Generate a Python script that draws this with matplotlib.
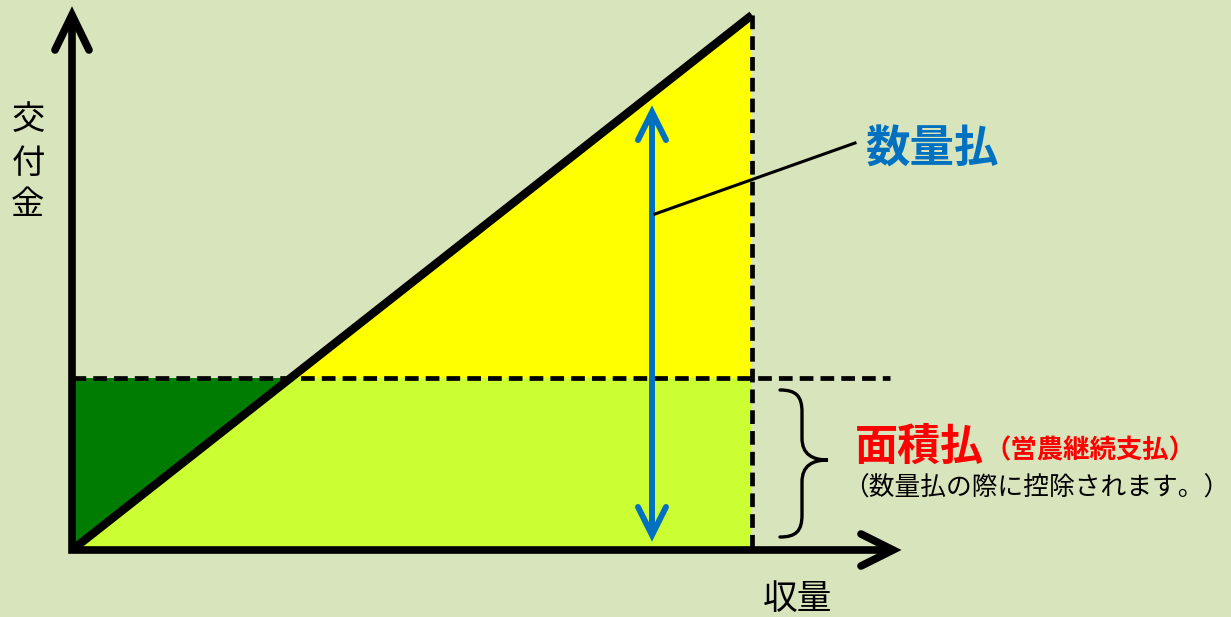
import matplotlib
matplotlib.use("Agg")
import matplotlib.pyplot as plt
from matplotlib.path import Path
from matplotlib.patches import PathPatch, Polygon

plt.rcParams['font.family'] = ['Noto Sans CJK JP', 'DejaVu Sans']

# Diagram geometry (pixel space of the 1231x617 canvas, y grows downward)
origin = (72, 550)
y_axis_top = 15
x_axis_end = 893
max_yield_x = 752          # vertical dashed line (maximum yield)
max_pay_y = 15             # top of the quantity payment line
area_pay_y = 378           # fixed area payment level
qty_arrow_x = 652
qty_arrow_span = (112, 535)
leader = ([655, 855], [214, 143])

y_label_chars = ["交", "付", "金"]
y_label_ys = [120, 164, 205]
x_label = "収量"
qty_label = "数量払"
area_label = "面積払"
area_sub = "（営農継続支払）"
area_note = "（数量払の際に控除されます。）"

bg = "#D8E4BC"
yellow = "#FFFF00"
lime = "#CCFF33"
dark_green = "#007D00"
blue = "#0070C0"

fig = plt.figure(figsize=(12.31, 6.17), dpi=100)
fig.patch.set_facecolor(bg)
ax = fig.add_axes([0, 0, 1, 1])
ax.set_xlim(0, 1231)
ax.set_ylim(617, 0)
ax.axis("off")

ox, oy = origin
# where the payment line crosses the area payment level
slope = (oy - max_pay_y) / (max_yield_x - ox)
x_cross = ox + (oy - area_pay_y) / slope

ax.add_patch(Polygon([(ox, oy), (ox, area_pay_y), (x_cross, area_pay_y)],
                     closed=True, facecolor=dark_green, edgecolor="none", zorder=1))
ax.add_patch(Polygon([(ox, oy), (x_cross, area_pay_y), (max_yield_x, area_pay_y),
                      (max_yield_x, oy)],
                     closed=True, facecolor=lime, edgecolor="none", zorder=1))
ax.add_patch(Polygon([(x_cross, area_pay_y), (max_yield_x, max_pay_y),
                      (max_yield_x, area_pay_y)],
                     closed=True, facecolor=yellow, edgecolor="none", zorder=1))

# dashed guide lines
ax.plot([ox, 890], [area_pay_y, area_pay_y], color="black", lw=3.4,
        dashes=(2.9, 1.5), zorder=3)
ax.plot([max_yield_x, max_yield_x], [max_pay_y, oy], color="black", lw=3.4,
        dashes=(2.9, 1.5), zorder=3)

# payment line
ax.plot([ox, max_yield_x], [oy, max_pay_y], color="black", lw=6,
        solid_capstyle="butt", zorder=4)

# axes with open arrowheads (square corner at the origin)
kw = dict(color="black", lw=5.5, solid_capstyle="round", zorder=5)
ax.plot([ox, ox, x_axis_end - 2], [y_axis_top + 2, oy, oy], color="black", lw=5.5,
        solid_capstyle="butt", solid_joinstyle="miter", zorder=5)
ax.plot([ox - 17, ox, ox + 17], [y_axis_top + 35, y_axis_top, y_axis_top + 35],
        solid_joinstyle="miter", **kw)
ax.plot([x_axis_end - 32, x_axis_end, x_axis_end - 32], [oy - 16, oy, oy + 16],
        solid_joinstyle="miter", **kw)

# quantity payment double arrow
bkw = dict(color=blue, lw=4.3, solid_capstyle="round", zorder=6)
top, bot = qty_arrow_span
ax.plot([qty_arrow_x, qty_arrow_x], [top + 2, bot - 2], **bkw)
ax.plot([qty_arrow_x - 14, qty_arrow_x, qty_arrow_x + 14], [top + 28, top, top + 28],
        solid_joinstyle="miter", **bkw)
ax.plot([qty_arrow_x - 14, qty_arrow_x, qty_arrow_x + 14], [bot - 28, bot, bot - 28],
        solid_joinstyle="miter", **bkw)

# leader line
ax.plot(leader[0], leader[1], color="black", lw=2.2, zorder=6)
ax.text(865, 150, qty_label, color=blue, fontsize=32, fontweight="bold",
        ha="left", va="center", zorder=7)

# curly brace
bx0, bx1, bx2 = 780, 802, 828
btop, bmid, bbot = 390, 460, 537
verts = [(bx0, btop), (bx0 + 16, btop), (bx1, btop + 6), (bx1, btop + 22),
         (bx1, bmid - 22),
         (bx1, bmid - 6), (bx1 + 10, bmid), (bx2, bmid),
         (bx1 + 10, bmid), (bx1, bmid + 6), (bx1, bmid + 22),
         (bx1, bbot - 22),
         (bx1, bbot - 6), (bx0 + 16, bbot), (bx0, bbot)]
codes = [Path.MOVETO, Path.CURVE4, Path.CURVE4, Path.CURVE4,
         Path.LINETO,
         Path.CURVE4, Path.CURVE4, Path.CURVE4,
         Path.CURVE4, Path.CURVE4, Path.CURVE4,
         Path.LINETO,
         Path.CURVE4, Path.CURVE4, Path.CURVE4]
ax.add_patch(PathPatch(Path(verts, codes), facecolor="none", edgecolor="black",
                       lw=2.4, capstyle="round", zorder=6))

ax.text(855, 447, area_label, color="red", fontsize=31, fontweight="bold",
        ha="left", va="center")
ax.text(985, 451, area_sub, color="red", fontsize=19, fontweight="bold",
        ha="left", va="center")
ax.text(843, 489, area_note, color="black", fontsize=18.5,
        ha="left", va="center")

for ch, yy in zip(y_label_chars, y_label_ys):
    ax.text(28, yy, ch, fontsize=24, ha="center", va="center")
ax.text(798, 600, x_label, fontsize=25, ha="center", va="center")

fig.savefig("out.png", dpi=100, facecolor=bg)
